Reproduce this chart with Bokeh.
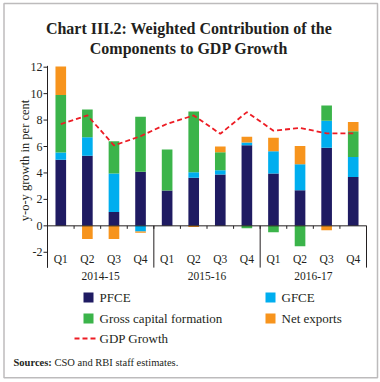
import math
from bokeh.plotting import figure
from bokeh.models import ColumnDataSource, Range1d, Label, BoxAnnotation, Arrow
from bokeh.core.properties import value
from bokeh.embed import file_html
from bokeh.resources import INLINE

# ---------------- data ----------------
years = ["2014-15", "2015-16", "2016-17"]
quarters = ["Q1", "Q2", "Q3", "Q4"]
pfce = [5.0, 5.3, 1.05, 4.1, 2.67, 3.63, 3.88, 6.1, 3.95, 2.7, 5.9, 3.7]
gfce = [0.55, 1.4, 2.9, -0.43, 0.0, 0.43, 0.33, 0.2, 1.7, 1.95, 2.05, 1.5]
gcf = [4.35, 2.1, 2.45, 4.16, 3.1, 4.59, 1.36, -0.18, -0.48, -1.54, 1.15, 1.95]
netx = [2.15, -1.0, -1.0, -0.1, 0.0, -0.08, 0.43, 0.43, 1.02, 1.38, -0.33, 0.7]
gdp = [7.7, 8.35, 6.08, 6.78, 7.72, 8.35, 6.96, 8.6, 7.2, 7.4, 7.0, 7.0]
y_ticks = [-2, 0, 2, 4, 6, 8, 10, 12]
y_tick_labels = ["-2", "0", "2", "4", "6", "8", "10", "12"]
series_names = ["PFCE", "GFCE", "Gross capital formation", "Net exports"]
line_name = "GDP Growth"
y_title = "y-o-y growth in per cent"
title_lines = ["Chart III.2: Weighted Contribution of the", "Components to GDP Growth"]
source_head = "Sources:"
source_text = "CSO and RBI staff estimates."

# ---------------- styles / layout ----------------
colors = ["#1f1b62", "#00aeef", "#3bb44a", "#f7941d"]
gdp_color = "#ed1c24"
ink = "#231f20"
FONT = "Liberation Serif"
serif = value(FONT)
W, H = 379, 379
PX_L, PX_R = 47, 366          # canvas x of the plot area edges
PX_Y0, YPX = 225.33, 13.22    # canvas y of zero line, pixels per unit
Y_BOTTOM = -3.16              # lower end of the axis lines
Y_TOP = 12.1

factors = [(y, q) for y in years for q in quarters]
n = len(factors)
XPX = (PX_R - PX_L) / n
xs = [i + 0.5 for i in range(n)]

keys = ["pfce", "gfce", "gcf", "netx"]
series = [pfce, gfce, gcf, netx]
data = {"x": xs, "q": [f[1] for f in factors], "gdp": gdp}
for k, s in zip(keys, series):
    data[k + "_p"] = [max(v, 0) for v in s]
    data[k + "_n"] = [min(v, 0) for v in s]
src = ColumnDataSource(data)

p = figure(x_range=Range1d(-PX_L / XPX, n + (W - PX_R) / XPX),
           y_range=Range1d(-(H - PX_Y0) / YPX, PX_Y0 / YPX),
           width=W, height=H, output_backend="svg", toolbar_location=None,
           x_axis_location=None, y_axis_location=None,
           min_border=0, min_border_left=0, min_border_right=0,
           min_border_top=0, min_border_bottom=0)
p.outline_line_color = None
p.grid.visible = False
p.background_fill_color = "white"
p.border_fill_color = "white"

# bars (positive and negative parts stacked separately)
p.vbar_stack([k + "_p" for k in keys], x="x", width=0.4, fill_color=colors,
             line_color=None, source=src)
p.vbar_stack([k + "_n" for k in keys], x="x", width=0.4, fill_color=colors,
             line_color=None, source=src)

# GDP line
p.line(x="x", y="gdp", source=src, line_color=gdp_color, line_width=1.8, line_dash="5 3")

# y axis
p.segment(x0=[0], y0=[Y_BOTTOM], x1=[0], y1=[Y_TOP], line_color=ink, line_width=1)
p.segment(x0=[-4 / XPX] * len(y_ticks), y0=y_ticks, x1=[0] * len(y_ticks), y1=y_ticks,
          line_color=ink, line_width=1)
p.text(x=[-5 / XPX] * len(y_ticks), y=y_ticks, text=y_tick_labels, text_font=serif,
       text_font_size="12px", text_align="right", text_baseline="middle", text_color=ink)

# zero line, category ticks, group separators
p.segment(x0=[0], y0=[0], x1=[n], y1=[0], line_color=ink, line_width=1)
bounds = list(range(n + 1))
p.segment(x0=bounds, y0=[0] * len(bounds), x1=bounds, y1=[-3 / YPX] * len(bounds),
          line_color=ink, line_width=1)
gb = [i * len(quarters) for i in range(len(years) + 1)]
p.segment(x0=gb, y0=[0] * len(gb), x1=gb, y1=[Y_BOTTOM] * len(gb), line_color=ink,
          line_width=1)

# quarter and year labels
p.text(x="x", y=-2.48, text="q", source=src, text_font=serif, text_font_size="11.5px",
       text_align="center", text_baseline="middle", text_color=ink)
p.text(x=[i * len(quarters) + len(quarters) / 2 for i in range(len(years))],
       y=[-3.82] * len(years), text=years, text_font=serif, text_font_size="11.5px",
       text_align="center", text_baseline="middle", text_color=ink)

# y axis title
p.add_layout(Label(x=24, y=160, x_units="canvas", y_units="canvas", text=y_title,
                   angle=math.pi / 2, text_font=FONT, text_font_size="12.5px",
                   text_align="center", text_baseline="middle", text_color=ink))

# title
for txt, yy in zip(title_lines, [28, 48]):
    p.add_layout(Label(x=188.5, y=yy, x_units="canvas", y_units="canvas", text=txt,
                       text_font=FONT, text_font_style="bold", text_font_size="16px",
                       text_align="center", text_baseline="alphabetic", text_color=ink))

# legend
leg_pos = [(83, 292), (265, 292), (83, 313), (265, 313)]
for (lx, ly), c, name in zip(leg_pos, colors, series_names):
    p.add_layout(BoxAnnotation(left=lx, right=lx + 10, top=ly, bottom=ly + 10,
                               left_units="canvas", right_units="canvas",
                               top_units="canvas", bottom_units="canvas",
                               fill_color=c, fill_alpha=1, line_color=None))
    p.add_layout(Label(x=lx + 16, y=ly + 5, x_units="canvas", y_units="canvas", text=name,
                       text_font=FONT, text_font_size="13px",
                       text_baseline="middle", text_color=ink))
p.add_layout(Arrow(start=None, end=None, x_start=74, y_start=338, x_end=97, y_end=338,
                   start_units="canvas", end_units="canvas", line_color=gdp_color,
                   line_width=1.8, line_dash="5 3"))
p.add_layout(Label(x=99, y=338, x_units="canvas", y_units="canvas", text=line_name,
                   text_font=FONT, text_font_size="13px",
                   text_baseline="middle", text_color=ink))

# sources
p.add_layout(Label(x=13, y=361.5, x_units="canvas", y_units="canvas", text=source_head,
                   text_font=FONT, text_font_style="bold",
                   text_font_size="10.5px", text_baseline="middle", text_color=ink))
p.add_layout(Label(x=54, y=361.5, x_units="canvas", y_units="canvas", text=source_text,
                   text_font=FONT, text_font_size="10.5px", text_baseline="middle",
                   text_color=ink))

# outer border
p.add_layout(BoxAnnotation(left=3.5, right=377, top=3, bottom=377.3, left_units="canvas",
                           right_units="canvas", top_units="canvas", bottom_units="canvas",
                           fill_alpha=0, line_color=ink, line_width=1.5))

open("out.html", "w").write(file_html(p, INLINE))
